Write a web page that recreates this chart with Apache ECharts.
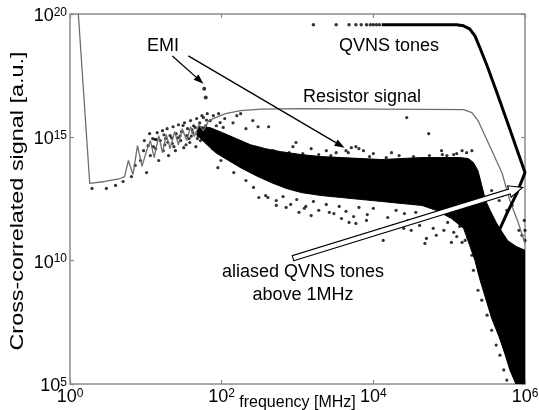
<!DOCTYPE html>
<html><head><meta charset="utf-8">
<script src="https://cdn.jsdelivr.net/npm/echarts@6/dist/echarts.min.js"></script>
<style>html,body{margin:0;padding:0;background:#fff}#c{width:539px;height:410px}</style>
</head><body><div id="c"></div>
<script>
// All values as [log10(frequency MHz), log10(signal a.u.)]
const xTickExps = [0, 2, 4, 6];
const yTickExps = [5, 10, 15, 20];

const resistorLog = [
  [0.11,20.0],[0.26,13.13],[0.46,13.21],[0.66,13.33],[0.72,13.41],[0.77,14.06],[0.83,13.49],
  [0.89,14.66],[0.95,13.82],[1.01,14.46],[1.06,14.87],[1.11,14.18],[1.17,15.07],[1.22,14.38],
  [1.27,15.11],[1.32,14.54],[1.38,15.23],[1.43,14.70],[1.48,15.35],[1.54,14.87],[1.59,15.43],
  [1.64,15.03],[1.70,15.51],[1.76,15.27],[1.83,15.68],[1.92,15.80],[2.05,15.96],[2.25,16.08],
  [2.52,16.14],[3.05,16.16],[5.19,16.12],[5.30,16.00],[5.38,15.68],[5.52,14.75],[5.70,13.53],
  [5.80,12.44],[5.91,11.55],[6.0,10.70]
];

const qvnsLineLog = [
  [4.11,19.56],[5.10,19.56],[5.19,19.52],[5.27,19.40],[5.34,19.11],[5.40,18.67],[5.50,17.90],
  [5.63,16.81],[5.76,15.68],[5.89,14.54],[6.0,13.57],[5.89,12.72],[5.76,11.91],[5.66,11.23]
];

const qvnsDotsLog = [
  [3.21,19.56],[3.51,19.56],[3.68,19.56],[3.77,19.56],[3.84,19.56],[3.91,19.56],[3.96,19.56],
  [4.00,19.56],[4.04,19.56],[4.08,19.56]
];

const emiLog = [[1.77,16.97],[1.79,16.61]];

const scatterLog = [
  [0.29,12.93],[0.48,12.93],[0.60,13.05],[0.70,13.21],[0.81,13.41],[0.86,13.86],[0.93,14.06],
  [0.97,14.46],[1.01,13.57],[1.03,14.66],[1.06,14.26],[1.09,14.95],[1.13,14.54],[1.15,15.19],
  [1.17,14.06],[1.19,14.87],[1.22,15.27],[1.23,14.46],[1.26,14.95],[1.28,15.35],[1.30,14.26],
  [1.32,15.07],[1.35,14.75],[1.36,15.43],[1.39,14.46],[1.40,15.15],[1.43,15.51],[1.46,14.87],
  [1.47,15.23],[1.50,14.58],[1.51,15.59],[1.54,15.07],[1.55,15.35],[1.58,14.79],[1.59,15.68],
  [1.62,15.19],[1.63,15.47],[1.66,14.62],[1.67,15.76],[1.70,15.27],[1.71,15.59],[1.72,14.87],
  [1.74,15.88],[1.76,15.80],[1.79,15.47],[1.81,15.96],[1.83,15.15],[1.85,15.68],[1.88,14.54],
  [1.89,15.88],[1.93,15.47],[1.96,15.96],[1.99,14.06],[2.04,15.76],[2.07,14.46],[2.12,14.75],
  [2.15,15.59],[2.20,15.88],[2.25,15.96],[2.32,15.35],[2.41,15.68],[2.48,15.43],[2.62,15.43],
  [1.12,14.92],[1.25,14.70],[1.34,14.98],[1.45,15.05],[1.57,14.95],[1.61,15.30],[1.69,15.05],
  [0.98,14.87],[1.05,15.15],[1.10,14.62],[1.14,14.91],[1.24,15.10],[1.29,14.80],[1.37,14.62],
  [1.42,14.98],[1.49,15.48],[1.53,14.70],[1.60,15.05],[1.65,15.40],[1.68,14.95],[1.73,15.35],
  [1.78,15.05],[1.80,15.70],[1.86,15.30],[1.90,15.10],[1.98,15.60],[2.02,15.40],
  [1.95,13.77],[2.16,13.57],[2.32,13.25],[2.42,12.97],[2.49,12.56],[2.61,12.56],[2.72,12.24],
  [2.85,12.16],[3.02,11.96],[3.09,12.12],[3.18,11.83],[3.42,11.96],[3.58,11.71],[3.68,11.55],
  [3.77,11.51],[3.91,11.63],[4.07,11.23],[4.13,10.82],[4.26,11.43],[4.40,11.31],[4.41,11.91],
  [4.50,11.23],[4.61,11.43],[4.68,10.70],[4.70,10.90],[4.83,11.03],[4.93,11.23],[5.03,10.74],
  [5.10,10.98],[5.17,10.74],[5.21,10.82],
  [2.58,12.64],[2.72,12.44],[2.81,12.60],[2.91,12.28],[2.99,12.48],[3.11,12.20],[3.21,12.40],
  [3.28,12.04],[3.38,12.28],[3.48,11.91],[3.55,12.20],[3.64,12.00],[3.74,11.79],[3.81,12.16],
  [3.92,11.87],[4.00,12.12],[4.19,11.75],[4.30,12.04],[4.46,11.63],[4.56,11.96],[4.74,11.75],
  [4.79,11.31],[4.98,11.55],[5.06,11.15],[5.14,11.39],[5.25,10.90],[5.30,11.23],
  [5.30,10.22],[5.32,9.61],[5.38,8.80],[5.43,8.40],[5.50,7.79],[5.56,7.18],[5.62,6.58],
  [5.67,6.17],[5.72,5.57],[5.76,5.16],
  [2.94,14.62],[2.98,14.79],[3.18,14.54],[3.38,14.46],[3.51,14.38],[3.64,14.46],[3.71,14.58],
  [3.77,14.62],[3.81,14.54],[3.87,14.46],[3.67,14.38],[4.00,14.34],[4.24,14.38],[4.44,15.80],
  [4.73,15.15],[4.90,14.46],[4.91,14.30],[5.10,14.34],[5.17,14.46],[5.23,14.38],[5.30,14.46],
  [2.68,14.46],[2.89,14.38],[3.07,14.34],[3.28,14.30],[3.44,14.26],[3.95,14.22],[4.17,14.18],
  [4.34,14.26],[4.53,14.22],[4.74,14.26],[4.97,14.26],[5.06,14.30],
  [5.56,12.84],[5.66,12.44],[5.70,12.64],[5.76,12.04],[5.83,12.24],[5.92,11.23],[5.96,11.03],
  [5.99,11.63],[6.0,10.82],[6.0,11.23]
];

// outline of the fully saturated (solid black) part of the scatter cloud
const blobLog = [
  [1.70,15.43],[1.85,15.39],[2.01,15.19],[2.19,14.95],[2.38,14.70],[2.58,14.54],[2.78,14.42],
  [3.05,14.30],[3.31,14.22],[3.58,14.18],[3.84,14.14],[4.11,14.10],[4.37,14.14],[4.64,14.18],
  [4.90,14.18],[5.14,14.18],[5.25,14.14],[5.32,13.98],[5.38,13.65],[5.43,13.05],[5.48,12.44],
  [5.54,12.04],[5.62,11.55],[5.70,11.15],[5.77,10.82],[5.88,10.58],[6.0,10.42],[6.0,5.0],
  [5.88,5.0],[5.80,5.57],[5.74,6.17],[5.66,6.90],[5.56,7.67],[5.48,8.48],[5.40,9.29],
  [5.34,10.01],[5.27,10.62],[5.19,11.31],[5.03,11.71],[4.83,12.04],[4.64,12.24],[4.37,12.32],
  [4.11,12.40],[3.84,12.48],[3.58,12.56],[3.31,12.64],[3.05,12.76],[2.85,12.93],[2.65,13.17],
  [2.45,13.45],[2.25,13.77],[2.09,14.06],[1.92,14.38],[1.79,14.75],[1.67,15.11]
];

// annotation anchor points (same log units)
const emiArrows = [ [[1.35,18.30],[1.76,17.17]], [[1.56,18.30],[3.62,14.58]] ];
const aliasArrow = [[2.94,10.10],[5.97,12.97]];

const P = a => a.map(p => [Math.pow(10, p[0]), Math.pow(10, p[1])]);
const FONT = '"Liberation Sans", Arial, sans-serif';
const rich = { b: { fontSize: 18, fontFamily: FONT, color: '#000' },
               s: { fontSize: 12, fontFamily: FONT, color: '#000', verticalAlign: 'top', padding: [0,0,7,0] } };
const expFmt = v => '{b|10}{s|' + Math.round(Math.log10(v)) + '}';
const tickStyle = { inside: true, length: 4, lineStyle: { color: '#8a8a8a', width: 1.2 } };

const chart = echarts.init(document.getElementById('c'), null, { renderer: 'canvas' });
const blob = P(blobLog);
const option = {
  animation: false,
  backgroundColor: '#fff',
  grid: { left: 70, right: 14, top: 14, bottom: 26, show: true, borderColor: '#8a8a8a', borderWidth: 1.5,
          containLabel: false, outerBoundsMode: 'none' },
  xAxis: [
    { type: 'log', logBase: 10, min: 1, max: 1e6, interval: 2, position: 'bottom',
      axisLine: { show: false }, axisTick: tickStyle, splitLine: { show: false }, minorTick: { show: false },
      axisLabel: { formatter: expFmt, rich: rich, margin: 4, color: '#000' },
      name: 'frequency [MHz]', nameLocation: 'middle', nameGap: 11, nameMoveOverlap: false,
      nameTextStyle: { fontSize: 16, fontFamily: FONT, color: '#000' } },
    { type: 'log', logBase: 10, min: 1, max: 1e6, interval: 2, position: 'top',
      axisLine: { show: false }, axisTick: tickStyle, splitLine: { show: false }, axisLabel: { show: false } }
  ],
  yAxis: [
    { type: 'log', logBase: 10, min: 1e5, max: 1e20, interval: 5, position: 'left',
      axisLine: { show: false }, axisTick: tickStyle, splitLine: { show: false },
      axisLabel: { formatter: expFmt, rich: rich, margin: 3, color: '#000', padding: [4, 0, 0, 0] } },
    { type: 'log', logBase: 10, min: 1e5, max: 1e20, interval: 5, position: 'right',
      axisLine: { show: false }, axisTick: tickStyle, splitLine: { show: false }, axisLabel: { show: false } }
  ],
  series: [
    { type: 'custom', coordinateSystem: 'cartesian2d', clip: true, data: [blob[0]], z: 1,
      renderItem: (params, api) => ({ type: 'polygon', shape: { points: blob.map(p => api.coord(p)) },
        style: { fill: '#000', stroke: '#000', lineWidth: 1 } }) },
    { type: 'scatter', data: P(scatterLog), symbol: 'circle', symbolSize: 3.2,
      itemStyle: { color: '#000' }, z: 2, silent: true },
    { type: 'line', data: P(resistorLog), showSymbol: false, symbol: 'none', z: 3,
      lineStyle: { color: '#6e6e6e', width: 1.3 } },
    { type: 'line', data: P(qvnsLineLog), showSymbol: false, symbol: 'none', z: 4, smooth: false,
      lineStyle: { color: '#000', width: 3 } },
    { type: 'scatter', data: P(qvnsDotsLog), symbolSize: 3.5, itemStyle: { color: '#000' }, z: 4 },
    { type: 'scatter', data: P(emiLog), symbolSize: 4, itemStyle: { color: '#000' }, z: 4 }
  ]
};
chart.setOption(option);

const px = p => chart.convertToPixel({ xAxisIndex: 0, yAxisIndex: 0 }, [Math.pow(10, p[0]), Math.pow(10, p[1])]);
function solidArrow(a, b) {
  const A = px(a), B = px(b);
  const dx = B[0] - A[0], dy = B[1] - A[1], L = Math.hypot(dx, dy), ux = dx / L, uy = dy / L;
  const hl = 10, hw = 3.5;
  const bx = B[0] - ux * hl, by = B[1] - uy * hl;
  return [
    { type: 'line', shape: { x1: A[0], y1: A[1], x2: bx, y2: by }, style: { stroke: '#000', lineWidth: 1.3 }, z: 100 },
    { type: 'polygon', shape: { points: [B, [bx - uy * hw, by + ux * hw], [bx + uy * hw, by - ux * hw]] },
      style: { fill: '#000' }, z: 100 }
  ];
}
function hollowArrow(a, b) {
  const A = px(a), B = px(b);
  const dx = B[0] - A[0], dy = B[1] - A[1], L = Math.hypot(dx, dy), ux = dx / L, uy = dy / L;
  const nx = -uy, ny = ux, w = 2.6, hw = 6, hl = 14;
  const bx = B[0] - ux * hl, by = B[1] - uy * hl;
  const pts = [
    [A[0] + nx * w, A[1] + ny * w], [bx + nx * w, by + ny * w], [bx + nx * hw, by + ny * hw], B,
    [bx - nx * hw, by - ny * hw], [bx - nx * w, by - ny * w], [A[0] - nx * w, A[1] - ny * w]
  ];
  return [{ type: 'polygon', shape: { points: pts }, style: { fill: '#fff', stroke: '#000', lineWidth: 1.1 }, z: 100 }];
}
const txt = (s, x, y) => ({ type: 'text', x: x, y: y, z: 101,
  style: { text: s, fill: '#000', font: '18px ' + FONT, textAlign: 'center', textVerticalAlign: 'middle' } });
const elements = []
  .concat(solidArrow(emiArrows[0][0], emiArrows[0][1]))
  .concat(solidArrow(emiArrows[1][0], emiArrows[1][1]))
  .concat(hollowArrow(aliasArrow[0], aliasArrow[1]))
  .concat([
    txt('EMI', 163, 46), txt('QVNS tones', 389, 46), txt('Resistor signal', 362, 97),
    txt('aliased QVNS tones', 303, 272), txt('above 1MHz', 303, 295),
    { type: 'text', x: 18, y: 201, rotation: Math.PI / 2, scaleX: 1.3, z: 101,
      style: { text: 'Cross-correlated signal [a.u.]', fill: '#000', font: '18px ' + FONT,
               textAlign: 'center', textVerticalAlign: 'middle' } }
  ]);
chart.setOption({ graphic: { elements: elements } });
</script>
</body></html>
